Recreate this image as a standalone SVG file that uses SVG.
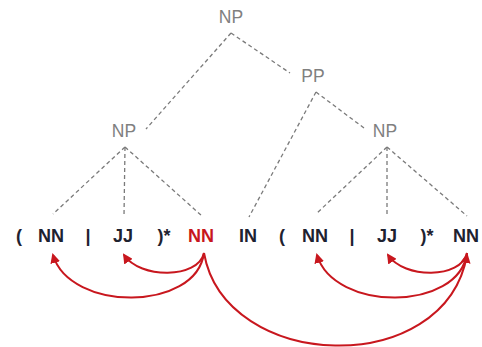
<svg xmlns="http://www.w3.org/2000/svg" width="482" height="347" viewBox="0 0 482 347">
<defs>
<style>
.lbl{font-family:"Liberation Sans",Arial,sans-serif;font-size:17.5px;fill:#808080;text-anchor:middle}
.tok{font-family:"Liberation Sans",Arial,sans-serif;font-size:18px;font-weight:bold;fill:#1e2230;text-anchor:middle}
.red{fill:#c8171e}
.dash{stroke:#7a7a7a;stroke-width:1.3;stroke-dasharray:4 3;fill:none}
.arc{stroke:#c8171e;stroke-width:2;fill:none;marker-end:url(#ah)}
</style>
<marker id="ah" viewBox="0 0 10 10" refX="8" refY="5" markerWidth="5" markerHeight="5" orient="auto" markerUnits="strokeWidth">
<path d="M0,0 L10,5 L0,10 z" fill="#c8171e"/>
</marker>
</defs>
<rect width="482" height="347" fill="#fff"/>
<g id="connectors">
<line class="dash" x1="231" y1="33" x2="146" y2="129"/>
<line class="dash" x1="231" y1="33" x2="290" y2="73"/>
<line class="dash" x1="316" y1="92" x2="249" y2="217"/>
<line class="dash" x1="316" y1="92" x2="364" y2="128"/>
<line class="dash" x1="125" y1="147" x2="53" y2="214"/>
<line class="dash" x1="125" y1="147" x2="124" y2="216"/>
<line class="dash" x1="125" y1="147" x2="202" y2="216"/>
<line class="dash" x1="387" y1="147" x2="316" y2="214"/>
<line class="dash" x1="387" y1="147" x2="387" y2="216"/>
<line class="dash" x1="387" y1="147" x2="467" y2="216"/>
<path class="arc" d="M204,253 C198,279 140,279 124,255"/>
<path class="arc" d="M204,253 C196,312 70,312 53,255"/>
<path class="arc" d="M204,253 C225,372 445,380 467,255"/>
<path class="arc" d="M467,253 C461,279 404,279 388,255"/>
<path class="arc" d="M467,253 C459,312 334,312 317,255"/>
</g>
<g id="np-top"><text class="lbl" x="231" y="23">NP</text></g>
<g id="pp"><text class="lbl" x="313" y="82">PP</text></g>
<g id="np-left"><text class="lbl" x="124" y="137">NP</text></g>
<g id="np-right"><text class="lbl" x="385" y="137">NP</text></g>
<g id="tokens">
<text class="tok" x="19" y="242">(</text>
<text class="tok" x="51" y="242">NN</text>
<text class="tok" x="88" y="242">|</text>
<text class="tok" x="123" y="242">JJ</text>
<text class="tok" x="164" y="242">)*</text>
<text class="tok red" x="201" y="242">NN</text>
<text class="tok" x="248" y="242">IN</text>
<text class="tok" x="282" y="242">(</text>
<text class="tok" x="315" y="242">NN</text>
<text class="tok" x="352" y="242">|</text>
<text class="tok" x="387" y="242">JJ</text>
<text class="tok" x="427" y="242">)*</text>
<text class="tok" x="466" y="242">NN</text>
</g>
</svg>
